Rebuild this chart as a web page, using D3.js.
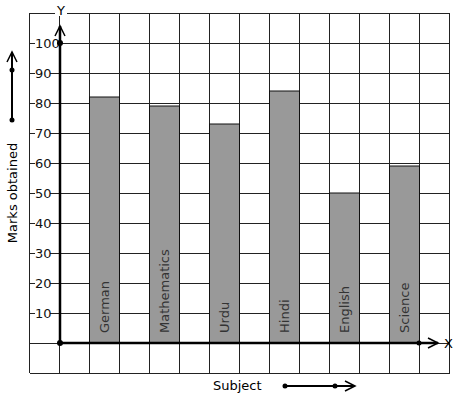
<!DOCTYPE html>
<html>
<head>
<meta charset="utf-8">
<script src="https://cdn.jsdelivr.net/npm/d3@7"></script>
<style>
  body { margin: 0; background: #fff; }
  text { font-family: "DejaVu Sans", sans-serif; }
</style>
</head>
<body>
<div id="chart"></div>
<script>
// data
var subjects = ["German", "Mathematics", "Urdu", "Hindi", "English", "Science"];
var marks = [82, 79, 73, 84, 50, 59];
var yTicks = [10, 20, 30, 40, 50, 60, 70, 80, 90, 100];

var width = 457, height = 399;

var svg = d3.select("#chart")
  .append("svg")
    .attr("width", width)
    .attr("height", height);

// scales: one grid cell = 10 marks = 30px
var y = d3.scaleLinear().domain([-10, 110]).range([373, 13]);
var gx = d3.scaleLinear().domain([-1, 13]).range([30, 450]);
var x = d3.scaleBand().domain(subjects).range([gx(0), gx(12)])
  .paddingInner(0.5).paddingOuter(0.25).align(1);

// grid
var grid = svg.append("g").attr("stroke", "#222").attr("stroke-width", 1);
d3.range(-1, 14).forEach(function(i) {
  grid.append("line")
    .attr("x1", Math.round(gx(i)) - 0.5).attr("x2", Math.round(gx(i)) - 0.5)
    .attr("y1", y(110)).attr("y2", y(-10));
});
d3.range(-10, 111, 10).forEach(function(v) {
  grid.append("line")
    .attr("x1", gx(-1)).attr("x2", gx(13))
    .attr("y1", y(v) + 0.5).attr("y2", y(v) + 0.5);
});

// bars
svg.selectAll(".bar")
  .data(subjects)
  .enter().append("rect")
    .attr("x", d => x(d) - 0.5)
    .attr("y", (d, i) => y(marks[i]))
    .attr("width", x.bandwidth())
    .attr("height", (d, i) => y(0) - y(marks[i]))
    .attr("fill", "#999")
    .attr("stroke", "#111")
    .attr("stroke-width", 1);

// bar labels
svg.selectAll(".blab")
  .data(subjects)
  .enter().append("text")
    .attr("transform", d => "translate(" + (x(d) + x.bandwidth() / 2 + 4) + "," + (y(0) - 10) + ") rotate(-90)")
    .attr("font-size", 13)
    .attr("fill", "#333")
    .text(d => d);

// y tick labels
var tl = svg.append("g");
yTicks.forEach(function(v) {
  tl.append("rect")
    .attr("x", 35).attr("y", y(v) - 7)
    .attr("width", v == 100 ? 22 : 15).attr("height", 14)
    .attr("fill", "#fff");
  tl.append("text")
    .attr("x", 35).attr("y", y(v) + 5)
    .attr("font-size", 13)
    .attr("fill", "#111")
    .text(v);
});

// axes
var ax = svg.append("g").attr("stroke", "#000").attr("fill", "none").attr("stroke-width", 2.5);
ax.append("line").attr("x1", gx(0)).attr("x2", gx(0)).attr("y1", y(0)).attr("y2", 26);
ax.append("path").attr("d", "M" + (gx(0) - 5) + ",36 L" + gx(0) + ",26 L" + (gx(0) + 5) + ",36").attr("stroke-width", 1.5);
ax.append("line").attr("x1", gx(0)).attr("x2", 438).attr("y1", y(0)).attr("y2", y(0));
ax.append("path").attr("d", "M428," + (y(0) - 5) + " L438," + y(0) + " L428," + (y(0) + 5)).attr("stroke-width", 1.5);

svg.append("circle").attr("cx", gx(0)).attr("cy", y(0)).attr("r", 3).attr("fill", "#000");
svg.append("circle").attr("cx", gx(0)).attr("cy", y(100)).attr("r", 3).attr("fill", "#000");
svg.append("circle").attr("cx", gx(12) - 1).attr("cy", y(0)).attr("r", 2.5).attr("fill", "#000");

svg.append("rect").attr("x", 55).attr("y", 2).attr("width", 12).attr("height", 14).attr("fill", "#fff");
svg.append("text").attr("x", 61).attr("y", 15).attr("text-anchor", "middle").attr("font-size", 13).text("Y");
svg.append("text").attr("x", 444).attr("y", 348).attr("font-size", 13).text("X");

// axis titles with arrows
svg.append("text")
  .attr("transform", "translate(17,193) rotate(-90)")
  .attr("text-anchor", "middle")
  .attr("font-size", 13)
  .text("Marks obtained");
var la = svg.append("g").attr("stroke", "#000").attr("fill", "none").attr("stroke-width", 2);
la.append("line").attr("x1", 12).attr("x2", 12).attr("y1", 120).attr("y2", 52);
la.append("path").attr("d", "M7,62 L12,52 L17,62").attr("stroke-width", 1.5);
svg.append("circle").attr("cx", 12).attr("cy", 120).attr("r", 2.5);
svg.append("circle").attr("cx", 12).attr("cy", 70).attr("r", 2.5);

svg.append("text").attr("x", 213).attr("y", 390).attr("font-size", 13).text("Subject");
var sa = svg.append("g").attr("stroke", "#000").attr("fill", "none").attr("stroke-width", 2);
sa.append("line").attr("x1", 285).attr("x2", 354).attr("y1", 386).attr("y2", 386);
sa.append("path").attr("d", "M345,381 L355,386 L345,391").attr("stroke-width", 1.5);
svg.append("circle").attr("cx", 285).attr("cy", 386).attr("r", 2.5);
svg.append("circle").attr("cx", 335).attr("cy", 386).attr("r", 2.5);
</script>
</body>
</html>
